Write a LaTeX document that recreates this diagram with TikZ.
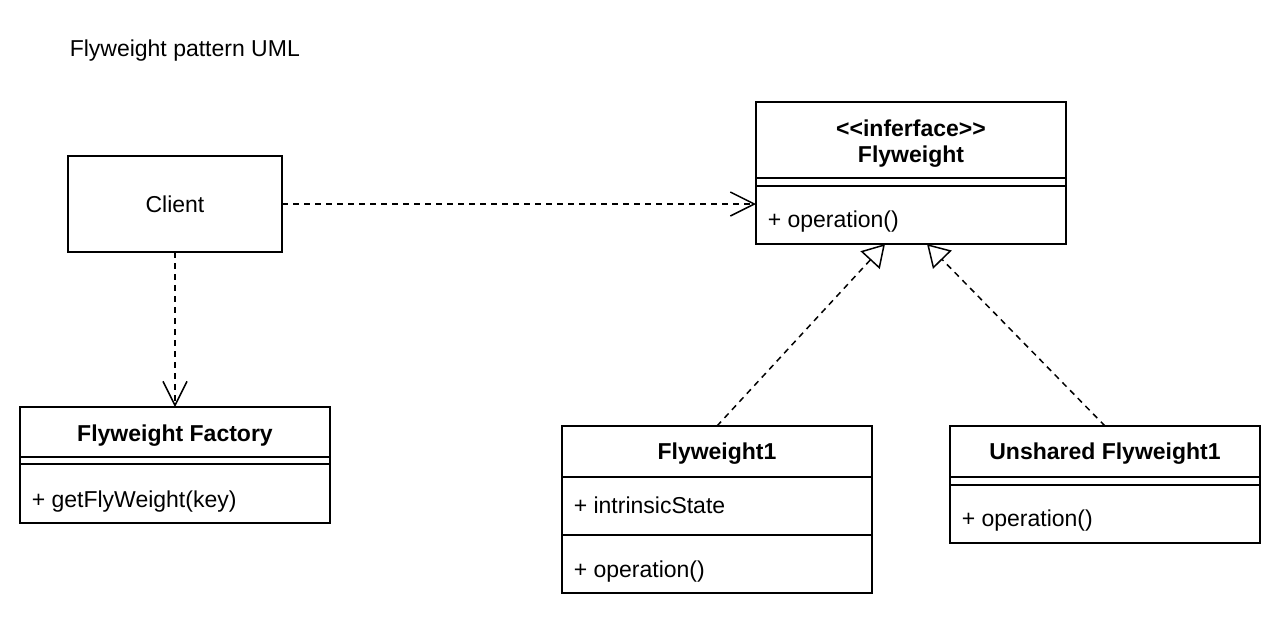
\documentclass[tikz,border=0pt]{standalone}
\usepackage{fontspec}
\setmainfont{Liberation Sans}
\usetikzlibrary{arrows.meta}
\begin{document}
\begin{tikzpicture}[x=1pt,y=-1pt,line width=1.5pt,
  box/.style={draw,rectangle,inner sep=0pt,outer sep=0pt,fill=white},
  txt/.style={inner sep=0pt,font=\fontsize{23}{26}\selectfont},
  bold/.style={inner sep=0pt,font=\fontsize{23}{26}\selectfont\bfseries,align=center},
  dep/.style={dash pattern=on 6pt off 5pt,-{Straight Barb[length=24pt,width=24pt]}},
  realize/.style={dash pattern=on 6pt off 5pt,-{Triangle[open,length=22pt,width=26pt,fill=white]}}]
\useasboundingbox (0,0) rectangle (1280,619);

\node[txt,anchor=west] (title) at (69,51) {Flyweight pattern UML};

% Client
\node[box,minimum width=214pt,minimum height=96pt] (client) at (175,204) {};
\node[txt] (clientT) at (175,204) {Client};

% Interface Flyweight
\node[box,minimum width=310pt,minimum height=142pt] (iface) at (911,173) {};
\node[bold] (ifaceT) at (911,144) {{<}{<}inferface{>}{>}\\Flyweight};
\draw (iface.west |- 0,178) -- (iface.east |- 0,178);
\draw (iface.west |- 0,186) -- (iface.east |- 0,186);
\node[txt,anchor=west] (ifaceOp) at (767,222) {+ operation()};

% Flyweight Factory
\node[box,minimum width=310pt,minimum height=116pt] (factory) at (175,465) {};
\node[bold] (factoryT) at (175,436) {Flyweight Factory};
\draw (factory.west |- 0,457) -- (factory.east |- 0,457);
\draw (factory.west |- 0,464) -- (factory.east |- 0,464);
\node[txt,anchor=west] (factoryOp) at (31,502) {+ getFlyWeight(key)};

% Flyweight1
\node[box,minimum width=310pt,minimum height=167pt] (fw1) at (717,509.5) {};
\node[bold] (fw1T) at (717,454) {Flyweight1};
\draw (fw1.west |- 0,477) -- (fw1.east |- 0,477);
\draw (fw1.west |- 0,535) -- (fw1.east |- 0,535);
\node[txt,anchor=west] (fw1A) at (573,505) {+ intrinsicState};
\node[txt,anchor=west] (fw1Op) at (573,572) {+ operation()};

% Unshared Flyweight1
\node[box,minimum width=310pt,minimum height=117pt] (unsh) at (1105,484.5) {};
\node[bold] (unshT) at (1105,454) {Unshared Flyweight1};
\draw (unsh.west |- 0,477) -- (unsh.east |- 0,477);
\draw (unsh.west |- 0,485) -- (unsh.east |- 0,485);
\node[txt,anchor=west] (unshOp) at (961,521) {+ operation()};

% connectors
\draw[dep] (client.east) -- (client.east -| iface.west);
\draw[dep] (client.south) -- (factory.north);
\draw[realize] (fw1.north) -- ([xshift=-26pt]iface.south);
\draw[realize] (unsh.north) -- ([xshift=16pt]iface.south);
\end{tikzpicture}
\end{document}
